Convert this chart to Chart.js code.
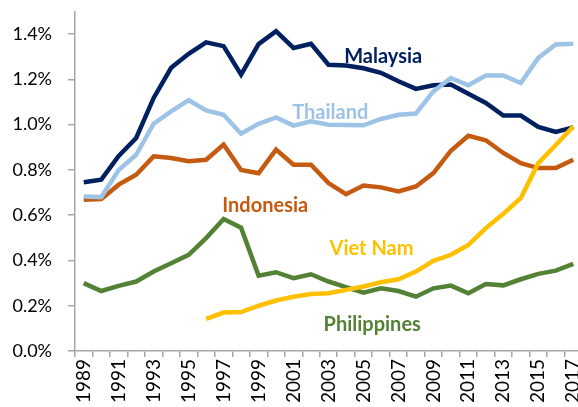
<!DOCTYPE html>
<html>
<head>
<meta charset="utf-8">
<script src="https://cdn.jsdelivr.net/npm/chart.js@4"></script>
<style>
  html, body { margin: 0; padding: 0; background: #fff; overflow: hidden; }
  #wrap { width: 578px; height: 407px; overflow: hidden; position: relative; }
  canvas { display: block; }
</style>
</head>
<body>
<div id="wrap"><canvas id="c" width="582" height="407" style="width:582px;height:407px"></canvas></div>
<script>
// ---- Data (share, %) ----
const years = ['1989','1990','1991','1992','1993','1994','1995','1996','1997','1998',
  '1999','2000','2001','2002','2003','2004','2005','2006','2007','2008',
  '2009','2010','2011','2012','2013','2014','2015','2016','2017'];

const malaysia = [0.746,0.757,0.862,0.941,1.118,1.251,1.313,1.364,1.347,1.221,
  1.356,1.413,1.339,1.357,1.265,1.261,1.249,1.229,1.192,1.158,
  1.174,1.177,1.137,1.096,1.040,1.040,0.990,0.968,0.988];

const thailand = [0.683,0.680,0.800,0.867,1.004,1.059,1.108,1.063,1.044,0.960,
  1.004,1.032,0.996,1.015,1.000,0.999,0.997,1.025,1.044,1.049,
  1.147,1.206,1.174,1.217,1.217,1.184,1.295,1.354,1.358];

const indonesia = [0.668,0.671,0.735,0.779,0.860,0.853,0.838,0.845,0.912,0.800,
  0.785,0.890,0.823,0.823,0.742,0.693,0.731,0.723,0.705,0.727,
  0.786,0.885,0.951,0.931,0.875,0.830,0.808,0.808,0.845];

const philippines = [0.300,0.265,0.288,0.307,0.351,0.388,0.425,0.499,0.583,0.545,
  0.333,0.348,0.322,0.339,0.307,0.282,0.258,0.277,0.265,0.240,
  0.277,0.289,0.255,0.296,0.290,0.317,0.341,0.355,0.385];

const vietnam = [null,null,null,null,null,null,null,0.142,0.170,0.172,
  0.200,0.223,0.240,0.252,0.255,0.270,0.285,0.304,0.317,0.351,
  0.398,0.425,0.469,0.543,0.606,0.676,0.830,0.910,0.992];

const yTickValues = [0, 0.2, 0.4, 0.6, 0.8, 1.0, 1.2, 1.4];

// ---- Styling ----
const colors = {
  'Malaysia': '#002060',
  'Thailand': '#9DC3E6',
  'Indonesia': '#C55A11',
  'Viet Nam': '#FFC000',
  'Philippines': '#548235'
};

// series label anchors: [category index, value]
const labelAnchors = {
  'Malaysia': [17.13, 1.300],
  'Thailand': [14.1, 1.053],
  'Indonesia': [10.38, 0.642],
  'Viet Nam': [16.46, 0.451],
  'Philippines': [16.5, 0.119]
};

function ds(name, data) {
  return {
    label: name, data: data,
    borderColor: colors[name], backgroundColor: colors[name],
    borderWidth: 4.5, pointRadius: 0, tension: 0, spanGaps: false,
    borderJoinStyle: 'miter', borderCapStyle: 'butt'
  };
}

const seriesLabels = {
  id: 'seriesLabels',
  afterDatasetsDraw(chart) {
    const ctx = chart.ctx;
    const xs = chart.scales.x, ys = chart.scales.y;
    ctx.save();
    ctx.font = 'bold 20px Lato';
    ctx.textAlign = 'center';
    ctx.textBaseline = 'middle';
    for (const name in labelAnchors) {
      const [ix, v] = labelAnchors[name];
      const x0 = xs.getPixelForValue(Math.floor(ix));
      const x1 = xs.getPixelForValue(Math.floor(ix) + 1);
      const x = x0 + (x1 - x0) * (ix - Math.floor(ix));
      const y = ys.getPixelForValue(v);
      ctx.fillStyle = colors[name];
      ctx.fillText(name, x, y);
    }
    ctx.restore();
  }
};

const axisGray = '#A6A6A6';

new Chart(document.getElementById('c'), {
  type: 'line',
  data: {
    labels: years,
    datasets: [
      ds('Viet Nam', vietnam),
      ds('Thailand', thailand),
      ds('Philippines', philippines),
      ds('Malaysia', malaysia),
      ds('Indonesia', indonesia)
    ]
  },
  options: {
    responsive: false,
    animation: false,
    layout: { padding: { top: 11.5, right: 0, left: 0, bottom: 0 } },
    plugins: { legend: { display: false }, tooltip: { enabled: false } },
    scales: {
      x: {
        type: 'category',
        offset: true,
        grid: {
          offset: true, drawOnChartArea: false, drawTicks: true,
          tickLength: 6, color: axisGray, lineWidth: 1.5
        },
        border: { display: true, color: axisGray, width: 1.5 },
        ticks: {
          autoSkip: false, minRotation: 90, maxRotation: 90,
          padding: 2, color: '#000',
          font: { family: 'Lato', size: 19 },
          callback: function(val, idx) { return idx % 2 === 0 ? this.getLabelForValue(val) : ''; }
        },
        afterFit(scale) { scale.height = 56; scale.paddingLeft = 0; scale.paddingRight = 0; }
      },
      y: {
        min: 0, max: 1.5,
        afterBuildTicks(scale) { scale.ticks = yTickValues.map(v => ({ value: v })); },
        grid: {
          drawOnChartArea: false, drawTicks: true, tickLength: 7,
          color: axisGray, lineWidth: 1.5
        },
        border: { display: true, color: axisGray, width: 1.5 },
        ticks: {
          padding: 16, color: '#000',
          font: { family: 'Lato', size: 18 },
          callback: v => v.toFixed(1) + '%'
        },
        afterFit(scale) { scale.width = 75; scale.paddingTop = 0; scale.paddingBottom = 0; }
      }
    }
  },
  plugins: [seriesLabels]
});
</script>
</body>
</html>
